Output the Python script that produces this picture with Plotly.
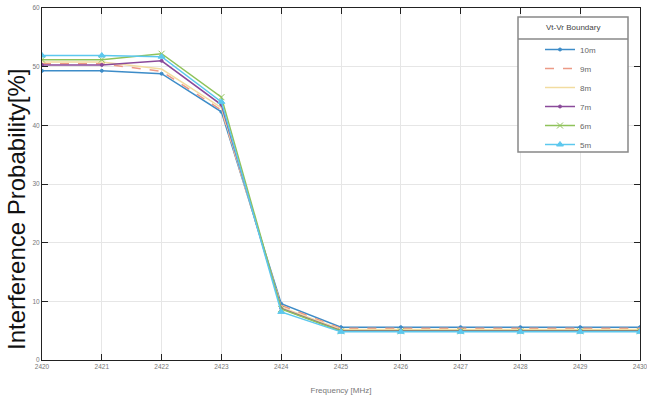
import plotly.graph_objects as go

freq = [2420, 2421, 2422, 2423, 2424, 2425, 2426, 2427, 2428, 2429, 2430]
tick_labels = [str(f) for f in freq]

s10m = [49.3, 49.3, 48.8, 42.3, 9.6, 5.6, 5.6, 5.6, 5.6, 5.6, 5.6]
s9m = [50.5, 50.5, 49.2, 42.6, 9.3, 5.4, 5.4, 5.4, 5.4, 5.4, 5.4]
s8m = [50.8, 50.8, 49.6, 43.0, 9.0, 5.2, 5.2, 5.2, 5.2, 5.2, 5.2]
s7m = [50.3, 50.3, 51.0, 43.5, 8.8, 5.0, 5.0, 5.0, 5.0, 5.0, 5.0]
s6m = [51.2, 51.2, 52.2, 44.8, 8.7, 4.9, 4.9, 4.9, 4.9, 4.9, 4.9]
s5m = [51.9, 51.9, 51.7, 44.0, 8.2, 4.8, 4.8, 4.8, 4.8, 4.8, 4.8]

series = [
    ("10m", s10m, "#3d8cc8", "solid", "circle", 3),
    ("9m", s9m, "#ec9a86", "dash", None, 0),
    ("8m", s8m, "#f2dca0", "solid", None, 0),
    ("7m", s7m, "#8a4a9a", "solid", "circle", 3),
    ("6m", s6m, "#8fc25a", "solid", "x-thin-open", 6),
    ("5m", s5m, "#5cc8ee", "solid", "triangle-up", 6),
]

# plot area in pixels: x 42..640, y 8..360
def px(xpix):
    return (xpix - 42) / 598.0

def py(ypix):
    return (360 - ypix) / 352.0

fig = go.Figure()
for name, vals, color, dash, sym, size in series:
    mode = "lines+markers" if sym else "lines"
    kw = {}
    if sym:
        kw["marker"] = dict(symbol=sym, size=size, color=color,
                            line=dict(color=color, width=1))
    fig.add_trace(go.Scatter(x=freq, y=vals, name=name, mode=mode,
                             line=dict(color=color, width=1.5, dash=dash), **kw))

fig.add_shape(type="rect", xref="paper", yref="paper",
              x0=px(518), x1=px(628), y0=py(152), y1=py(17),
              line=dict(color="#888", width=1.5), fillcolor="white", layer="above")
fig.add_shape(type="line", xref="paper", yref="paper",
              x0=px(518), x1=px(628), y0=py(39), y1=py(39),
              line=dict(color="#888", width=1.5), layer="above")
fig.add_annotation(text="Vt-Vr Boundary", xref="paper", yref="paper",
                   x=px(573), y=py(28), showarrow=False,
                   xanchor="center", yanchor="middle",
                   font=dict(size=8, color="#444"))
fig.add_annotation(text="Interference Probability[%]", xref="paper", yref="paper",
                   x=px(16), y=py(210), showarrow=False, textangle=-90,
                   xanchor="center", yanchor="middle",
                   font=dict(family="Liberation Sans, sans-serif", size=24, color="#111"))

fig.update_layout(
    width=647, height=399,
    margin=dict(l=42, r=7, t=8, b=39, autoexpand=False),
    paper_bgcolor="white", plot_bgcolor="white",
    font=dict(family="Liberation Sans, sans-serif", size=8, color="#777"),
    showlegend=True,
    legend=dict(
        x=px(540), y=py(35), xanchor="left", yanchor="top",
        bgcolor="rgba(0,0,0,0)", borderwidth=0,
        font=dict(size=8, color="#666"),
        itemwidth=30, tracegroupgap=0,
    ),
    xaxis=dict(
        range=[2420, 2430], tickvals=freq, ticktext=tick_labels,
        tickfont=dict(size=6.5, color="#777"),
        showgrid=True, gridcolor="#e6e6e6", gridwidth=1,
        showline=True, linecolor="#222", linewidth=1, mirror="ticks",
        ticks="inside", ticklen=6, tickcolor="#222",
        zeroline=False, ticklabeloverflow="allow", automargin=False,
        title=dict(text="Frequency [MHz]", font=dict(size=8, color="#777"), standoff=18),
    ),
    yaxis=dict(
        range=[0, 60], tickvals=[0, 10, 20, 30, 40, 50, 60],
        tickfont=dict(size=6.5, color="#777"),
        showgrid=True, gridcolor="#e6e6e6", gridwidth=1,
        showline=True, linecolor="#222", linewidth=1, mirror="ticks",
        ticks="inside", ticklen=6, tickcolor="#222",
        zeroline=False, automargin=False,
    ),
)

fig.write_html("out.html")
